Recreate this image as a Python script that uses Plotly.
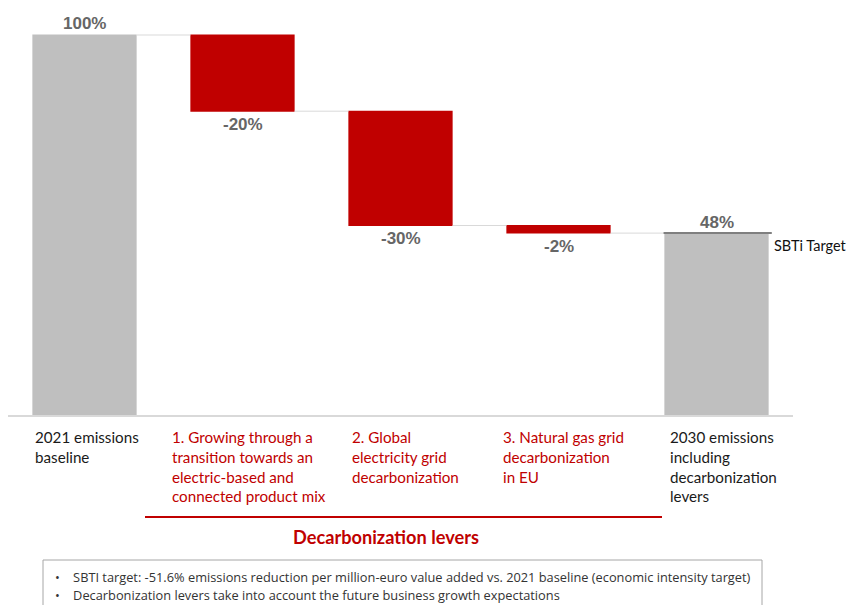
import plotly.graph_objects as go

categories = ["2021 emissions<br>baseline",
              "1. Growing through a<br>transition towards an<br>electric-based and<br>connected product mix",
              "2. Global<br>electricity grid<br>decarbonization",
              "3. Natural gas grid<br>decarbonization<br>in EU",
              "2030 emissions<br>including<br>decarbonization<br>levers"]
measures = ["absolute", "relative", "relative", "relative", "total"]
values = [100, -20, -30, -2, 48]
label_colors = ["#1a1a1a", "#C00000", "#C00000", "#C00000", "#1a1a1a"]
sbti_target = 48
notes = ["SBTI target: -51.6% emissions reduction per million-euro value added vs. 2021 baseline (economic intensity target)",
         "Decarbonization levers take into account the future business growth expectations"]

W, H = 851, 605
xs = list(range(len(categories)))

fig = go.Figure(go.Waterfall(
    x=xs, y=values, measure=measures,
    decreasing=dict(marker=dict(color="#C00000")),
    increasing=dict(marker=dict(color="#C00000")),
    totals=dict(marker=dict(color="#BFBFBF")),
    connector=dict(line=dict(color="#D9D9D9", width=1)),
    textinfo="none", hoverinfo="skip",
))

# value labels
ann = []
running = 0
for i, (m, v) in enumerate(zip(measures, values)):
    if m == "absolute":
        running = v
        ann.append(dict(x=i, y=running, text=f"<b>{v}%</b>", yshift=12, yanchor="middle"))
    elif m == "relative":
        running += v
        ann.append(dict(x=i, y=running, text=f"<b>{v}%</b>", yshift=-13, yanchor="middle"))
    else:
        ann.append(dict(x=i, y=running, text=f"<b>{running}%</b>", yshift=11, yanchor="middle"))
for a in ann:
    a.update(xref="x", yref="y", showarrow=False,
             font=dict(family="Liberation Sans", size=17, color="#666666"))

# category labels below axis
label_x = [33, 170, 350, 501, 668]
for lx, txt, col in zip(label_x, categories, label_colors):
    ann.append(dict(xref="paper", yref="paper", x=lx / W, y=1 - 426 / H,
                    xanchor="left", yanchor="top", align="left", showarrow=False,
                    text=txt, font=dict(family="Lato", size=15.2, color=col)))

ann.append(dict(xref="paper", yref="paper", x=386 / W, y=1 - 537 / H,
                xanchor="center", yanchor="middle", showarrow=False,
                text="<b>Decarbonization levers</b>",
                font=dict(family="Lato", size=18.2, color="#C00000")))
ann.append(dict(xref="x", yref="y", x=4, y=sbti_target, xshift=55, yshift=-12,
                xanchor="left", yanchor="middle", showarrow=False,
                text="SBTi Target", font=dict(family="Lato", size=14.5, color="#111111")))
for k, n in enumerate(notes):
    ann.append(dict(xref="paper", yref="paper", x=53 / W, y=1 - (577 + 18 * k) / H,
                    xanchor="left", yanchor="middle", showarrow=False,
                    text="•&nbsp;&nbsp;&nbsp;&nbsp;" + n,
                    font=dict(family="Open Sans", size=12.8, color="#333333")))

shapes = [
    dict(type="line", xref="paper", yref="y", x0=8 / W, x1=793 / W, y0=0, y1=0,
         line=dict(color="#D9D9D9", width=2)),
    dict(type="line", xref="x", yref="y", x0=4 - 0.335, x1=4 + 0.35,
         y0=sbti_target, y1=sbti_target, line=dict(color="#7F7F7F", width=2)),
    dict(type="line", xref="paper", yref="paper", x0=145 / W, x1=662 / W,
         y0=1 - 517 / H, y1=1 - 517 / H, line=dict(color="#C00000", width=2)),
    dict(type="rect", xref="paper", yref="paper", x0=43 / W, x1=762 / W,
         y0=1 - 620 / H, y1=1 - 560 / H, line=dict(color="#A6A6A6", width=1)),
]

fig.update_layout(
    width=W, height=H, margin=dict(l=0, r=0, t=0, b=0),
    paper_bgcolor="white", plot_bgcolor="white",
    showlegend=False, waterfallgap=0.34,
    xaxis=dict(visible=False, range=[-84.5 / 158, -84.5 / 158 + W / 158], fixedrange=True),
    yaxis=dict(visible=False, range=[-(H - 416) / 3.81, 416 / 3.81], fixedrange=True),
    annotations=ann, shapes=shapes,
)

fig.write_html("out.html")
